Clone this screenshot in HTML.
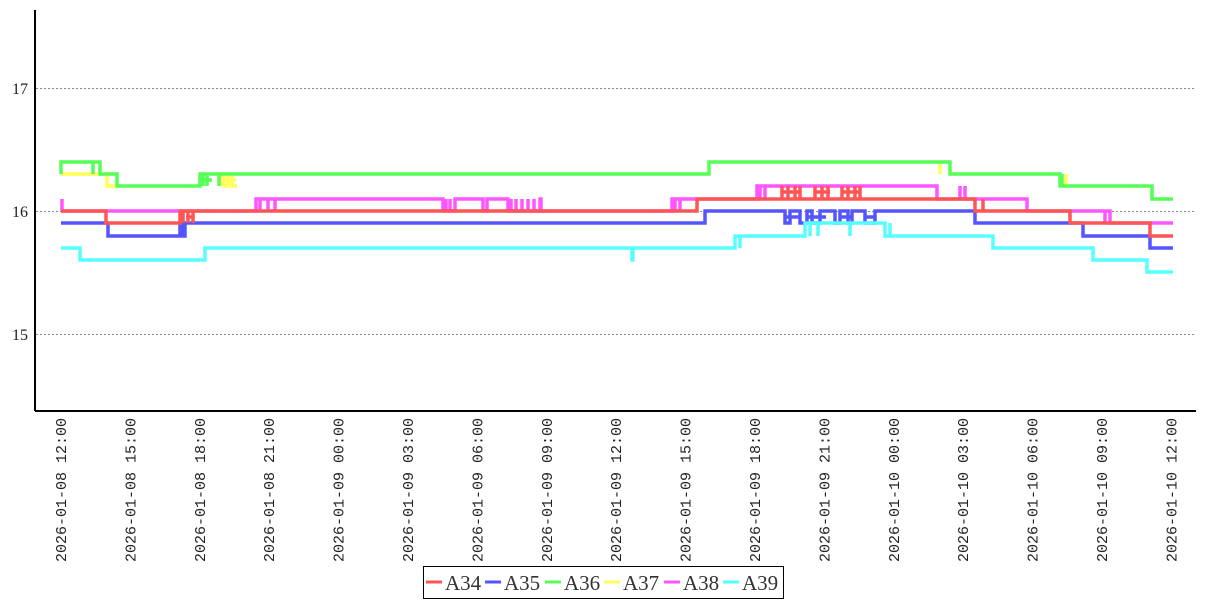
<!DOCTYPE html>
<html><head><meta charset="utf-8"><style>
body{margin:0;background:#fff;width:1207px;height:600px;overflow:hidden}
svg{display:block}
</style></head><body>
<svg width="1207" height="600" xmlns="http://www.w3.org/2000/svg">
<g stroke="#888" stroke-dasharray="2,2" stroke-width="1">
<line x1="36" y1="88.5" x2="1195" y2="88.5"/>
<line x1="36" y1="211.5" x2="1195" y2="211.5"/>
<line x1="36" y1="334.5" x2="1195" y2="334.5"/>
</g>
<g font-family="Liberation Serif, serif" font-size="16" fill="#222" text-anchor="end">
<text x="28" y="94">17</text><text x="28" y="217">16</text><text x="28" y="340">15</text>
</g>
<line x1="35" y1="10" x2="35" y2="411" stroke="#000" stroke-width="2"/>
<line x1="35" y1="411" x2="1196" y2="411" stroke="#000" stroke-width="2"/>
<g fill="none" stroke-width="3.5" stroke-linejoin="miter">
<path stroke="#ffff55" d="M61 174H107V186H117 M220 186V174H224V186H228V174H232V186H237 M222 180H236 M940 162V174 M1066 174V186"/>
<path stroke="#55ff55" d="M61 174V162H100V174H117V186H200V174H709V162H950V174H1060V186H1152V199H1173 M93 162V174 M203 174V186 M207 174V186 M219 174V186 M200 180H212 M1062 174V186"/>
<path stroke="#5555ff" d="M61 223H108V236H185V223H705V211H785V223H790V211H800V223H807V211H812V223H820V211H835V223H840V211H848V223H852V211H865V223H875V211H975V223H1083V236H1150V248H1173 M180 223V236 M183 223V236 M786 217H800 M808 217H826 M840 217H852 M864 217H875"/>
<path stroke="#ff55ff" d="M61 211H256V199H443V211H455V199H483V211H487V199H508V211H540V199H541V211H672V199H757V186H937V199H1027V211H1110V223H1173 M62 199V211 M260 211V199 M268 211V199 M275 211V199 M446 199V211 M450 199V211 M511 199V211 M516 199V211 M522 199V211 M528 199V211 M534 199V211 M675 199V211 M680 199V211 M760 186V199 M765 186V199 M960 199V186 M965 186V199 M1105 211V223"/>
<path stroke="#55ffff" d="M61 248H80V260H205V248H632V260H633V248H735V236H805V223H885V236H993V248H1093V260H1147V272H1173 M740 248V236 M810 236V223 M818 236V223 M850 236V223 M890 236V223 M993 236V248"/>
<path stroke="#ff5555" d="M61 211H106V223H180V211H697V199H975V211H1070V223H1150V236H1173 M183 211V223 M188 211V223 M193 211V223 M782 199V186 M788 199V186 M795 199V186 M800 199V186 M815 199V186 M822 199V186 M828 199V186 M842 199V186 M848 199V186 M855 199V186 M860 199V186 M983 199V211 M186 217H193 M782 192H800 M814 192H830 M842 192H860"/>
</g>
<g font-family="Liberation Mono, monospace" font-size="15" fill="#222" text-anchor="end">
<text transform="translate(66,418) rotate(-90)">2026-01-08 12:00</text>
<text transform="translate(135.4,418) rotate(-90)">2026-01-08 15:00</text>
<text transform="translate(204.8,418) rotate(-90)">2026-01-08 18:00</text>
<text transform="translate(274.2,418) rotate(-90)">2026-01-08 21:00</text>
<text transform="translate(343.6,418) rotate(-90)">2026-01-09 00:00</text>
<text transform="translate(413,418) rotate(-90)">2026-01-09 03:00</text>
<text transform="translate(482.4,418) rotate(-90)">2026-01-09 06:00</text>
<text transform="translate(551.8,418) rotate(-90)">2026-01-09 09:00</text>
<text transform="translate(621.2,418) rotate(-90)">2026-01-09 12:00</text>
<text transform="translate(690.6,418) rotate(-90)">2026-01-09 15:00</text>
<text transform="translate(760,418) rotate(-90)">2026-01-09 18:00</text>
<text transform="translate(829.4,418) rotate(-90)">2026-01-09 21:00</text>
<text transform="translate(898.8,418) rotate(-90)">2026-01-10 00:00</text>
<text transform="translate(968.2,418) rotate(-90)">2026-01-10 03:00</text>
<text transform="translate(1037.6,418) rotate(-90)">2026-01-10 06:00</text>
<text transform="translate(1107,418) rotate(-90)">2026-01-10 09:00</text>
<text transform="translate(1176.4,418) rotate(-90)">2026-01-10 12:00</text>
</g>
<rect x="423.5" y="566.5" width="360" height="32" fill="#fff" stroke="#000" stroke-width="1"/>
<g stroke-width="3">
<line x1="426" y1="582" x2="442" y2="582" stroke="#ff5555"/>
<line x1="485" y1="582" x2="501" y2="582" stroke="#5555ff"/>
<line x1="545" y1="582" x2="561" y2="582" stroke="#55ff55"/>
<line x1="604" y1="582" x2="620" y2="582" stroke="#ffff55"/>
<line x1="664" y1="582" x2="680" y2="582" stroke="#ff55ff"/>
<line x1="723" y1="582" x2="739" y2="582" stroke="#55ffff"/>
</g>
<g font-family="Liberation Serif, serif" font-size="21" fill="#333">
<text x="445" y="590">A34</text><text x="504" y="590">A35</text><text x="564" y="590">A36</text>
<text x="623" y="590">A37</text><text x="683" y="590">A38</text><text x="742" y="590">A39</text>
</g>
</svg>
</body></html>
